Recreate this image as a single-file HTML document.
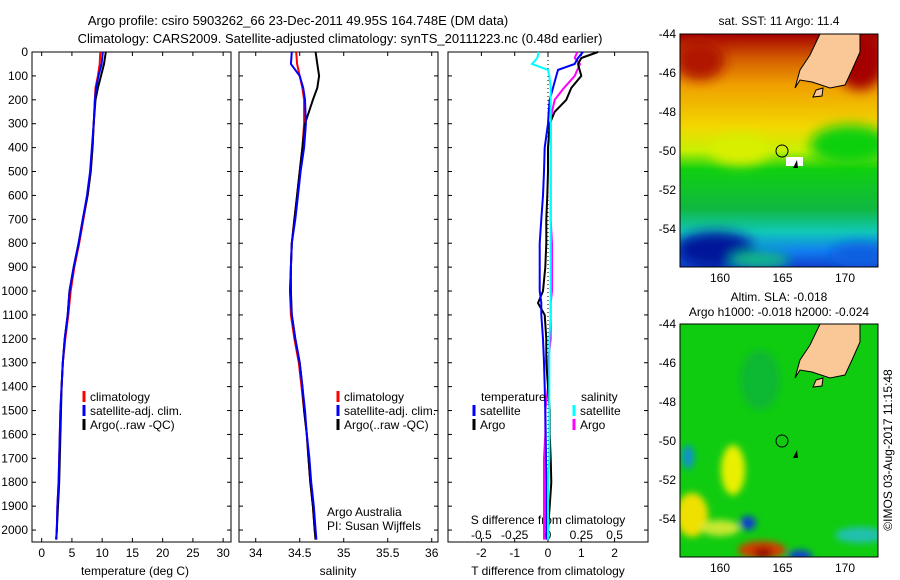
<!DOCTYPE html>
<html><head><meta charset="utf-8"><style>
body{margin:0;background:#fff}
svg{display:block;font-family:"Liberation Sans",sans-serif;font-size:12px}
</style></head><body>
<svg id="fig" width="900" height="580" viewBox="0 0 900 580">
<defs>
<linearGradient id="sstg" x1="0" y1="0" x2="0" y2="1">
<stop offset="0" stop-color="#a40000"/><stop offset="0.1" stop-color="#d25a00"/><stop offset="0.22" stop-color="#f0a000"/><stop offset="0.4" stop-color="#f2d800"/><stop offset="0.5" stop-color="#c8f000"/><stop offset="0.58" stop-color="#10d010"/><stop offset="0.75" stop-color="#10b840"/><stop offset="0.85" stop-color="#10c8b8"/><stop offset="0.93" stop-color="#1080f0"/><stop offset="1" stop-color="#1040d0"/>
</linearGradient>
<filter id="bl"><feGaussianBlur stdDeviation="6"/></filter>
<filter id="bl2"><feGaussianBlur stdDeviation="3.5"/></filter>
<clipPath id="c1"><rect x="680" y="34" width="198" height="233"/></clipPath>
<clipPath id="c2"><rect x="680" y="324" width="198" height="233"/></clipPath>
</defs>
<text x="298" y="25" text-anchor="middle" font-size="13">Argo profile: csiro 5903262_66 23-Dec-2011 49.95S 164.748E (DM data)</text>
<text x="340" y="43" text-anchor="middle" font-size="13">Climatology: CARS2009. Satellite-adjusted climatology: synTS_20111223.nc (0.48d earlier)</text>
<g id="plots"></g>
<g clip-path="url(#c1)">
<rect x="680" y="34" width="198" height="233" fill="url(#sstg)"/>
<g filter="url(#bl)">
<ellipse cx="860" cy="60" rx="25" ry="30" fill="#a40000"/>
<ellipse cx="700" cy="60" rx="25" ry="20" fill="#b01800"/>
<ellipse cx="715" cy="250" rx="40" ry="18" fill="#00189a"/>
<ellipse cx="860" cy="255" rx="30" ry="12" fill="#1060e0"/>
<ellipse cx="760" cy="260" rx="30" ry="8" fill="#10c080"/>
<ellipse cx="850" cy="145" rx="40" ry="20" fill="#10d010"/>
<ellipse cx="740" cy="150" rx="30" ry="15" fill="#d8f000"/>
</g>
<path d="M820,34 L860,34 L860,52 L852,70 L845,85 L830,88 L812,82 L800,80 L795,88 L800,70 L810,55Z" fill="#f9c896" stroke="#000" stroke-width="1"/>
<path d="M816,90 L823,88 L822,96 L813,97Z" fill="#f9c896" stroke="#000"/>
<rect x="786" y="157" width="17" height="9" fill="#fff"/>
<path d="M793,168 L797,160 L798,168Z" fill="#000"/>
<circle cx="782" cy="151" r="6" fill="none" stroke="#000"/>
</g>
<g clip-path="url(#c2)">
<rect x="680" y="324" width="198" height="233" fill="#10cc10"/>
<g filter="url(#bl2)">
<ellipse cx="733" cy="470" rx="12" ry="25" fill="#e8f000"/>
<ellipse cx="692" cy="515" rx="16" ry="22" fill="#f0e000"/>
<ellipse cx="720" cy="528" rx="20" ry="8" fill="#c8e830"/>
<ellipse cx="688" cy="457" rx="6" ry="12" fill="#1090d0"/>
<ellipse cx="748" cy="523" rx="8" ry="7" fill="#1040d0"/>
<ellipse cx="762" cy="550" rx="24" ry="9" fill="#d04000"/>
<ellipse cx="763" cy="553" rx="10" ry="6" fill="#a01000"/>
<ellipse cx="800" cy="556" rx="12" ry="6" fill="#1040d0"/>
<ellipse cx="860" cy="535" rx="25" ry="8" fill="#20c0b0"/>
<ellipse cx="760" cy="380" rx="20" ry="30" fill="#10b830"/>
</g>
<path d="M820,324 L860,324 L860,342 L852,360 L845,375 L830,378 L812,372 L800,370 L795,378 L800,360 L810,345Z" fill="#f9c896" stroke="#000"/>
<path d="M816,380 L823,378 L822,386 L813,387Z" fill="#f9c896" stroke="#000"/>
<path d="M793,458 L797,450 L798,458Z" fill="#000"/>
<circle cx="782" cy="441" r="6" fill="none" stroke="#000"/>
</g>
<rect x="680" y="34" width="198" height="233" fill="none" stroke="#000"/>
<rect x="680" y="324" width="198" height="233" fill="none" stroke="#000"/>
<text x="779" y="25" text-anchor="middle">sat. SST: 11 Argo: 11.4</text>
<text x="779" y="301" text-anchor="middle">Altim. SLA: -0.018</text>
<text x="779" y="316" text-anchor="middle">Argo h1000: -0.018 h2000: -0.024</text>
<text transform="translate(892,450) rotate(-90)" text-anchor="middle">©IMOS 03-Aug-2017 11:15:48</text>
</svg>
<script>
const depths=[0,50,100,150,200,300,400,500,600,700,800,900,1000,1100,1200,1300,1400,1500,1600,1700,1800,1900,2000,2040];
const tempClim=[9.7,9.6,9.3,8.9,8.8,8.6,8.4,8.1,7.6,6.9,6.2,5.4,4.8,4.4,3.9,3.5,3.3,3.1,3.0,2.9,2.8,2.6,2.5,2.4];
const tempSat=[10.1,9.9,9.4,9.0,8.8,8.6,8.3,8.0,7.5,6.8,6.1,5.3,4.6,4.3,3.8,3.5,3.3,3.1,3.0,2.9,2.8,2.6,2.5,2.4];
const tempArgo=[10.6,10.3,9.8,9.3,8.9,8.6,8.4,8.1,7.6,6.8,6.1,5.3,4.6,4.3,3.8,3.5,3.3,3.2,3.1,3.0,2.9,2.7,2.5,2.4];
const salClim=[34.46,34.47,34.50,34.53,34.55,34.55,34.53,34.50,34.47,34.44,34.41,34.40,34.39,34.40,34.44,34.49,34.52,34.55,34.58,34.60,34.62,34.65,34.67,34.68];
const salSat=[34.41,34.40,34.50,34.54,34.56,34.57,34.55,34.51,34.48,34.45,34.41,34.40,34.39,34.41,34.45,34.50,34.53,34.56,34.58,34.61,34.63,34.66,34.68,34.69];
const salArgo=[34.68,34.70,34.72,34.70,34.65,34.56,34.53,34.50,34.47,34.44,34.41,34.40,34.40,34.41,34.45,34.50,34.53,34.55,34.58,34.60,34.62,34.65,34.67,34.68];
const diffDepths=[0,25,50,75,100,150,200,250,300,400,500,600,700,800,900,1000,1050,1100,1200,1300,1400,1500,1600,1700,1800,1900,2000,2040];
const tDiffSat=[1.05,0.9,0.8,0.3,0.25,0.15,0.05,0.02,0,-0.1,-0.12,-0.15,-0.2,-0.25,-0.25,-0.25,-0.2,-0.2,-0.15,-0.12,-0.1,-0.08,-0.07,-0.06,-0.05,-0.05,-0.05,-0.05];
const tDiffArgo=[1.5,1.0,0.9,0.95,1.0,0.7,0.55,0.2,0.05,0,0,-0.02,-0.05,-0.05,-0.08,-0.15,-0.3,-0.1,-0.05,-0.05,0,0.05,0.05,0.08,0.1,0.05,0,0];
const sDiffSat=[-0.07,-0.08,-0.12,0,0.01,0.02,0.02,0.02,0.02,0.02,0.02,0.02,0.02,0.02,0.02,0.02,0.02,0.02,0.01,0.01,0.01,0.01,0.01,0.01,0.0,0.0,0.0,0.0];
const sDiffArgo=[0.22,0.2,0.24,0.22,0.2,0.12,0.05,0.03,0.02,0.02,0.02,0.02,0.02,0.03,0.03,0.03,0.02,0.02,0.02,0.0,0.0,-0.02,-0.02,-0.03,-0.03,-0.03,-0.03,-0.03];
const depthTicks=[0,100,200,300,400,500,600,700,800,900,1000,1100,1200,1300,1400,1500,1600,1700,1800,1900,2000];
const tempTicks=[0,5,10,15,20,25,30];
const salTicks=[34,34.5,35,35.5,36];
const tDiffTicks=[-2,-1,0,1,2];
const sDiffTicks=['-0.5','-0.25','0','0.25','0.5'];
const NS='http://www.w3.org/2000/svg';
const g=document.getElementById('plots');
const Y0=52,Y1=542;
const yD=d=>Y0+(d/2050)*(Y1-Y0);
const xT=v=>32+(v+1.6)*(199/32.9);
const xS=v=>239+(v-33.81)*88;
const xTd=v=>548+v*33.3;
const xSd=v=>548+v*133.3;
function el(t,a,p){const e=document.createElementNS(NS,t);for(const k in a)e.setAttribute(k,a[k]);(p||g).appendChild(e);return e;}
function txt(x,y,s,anchor){const e=el('text',{x:x,y:y,'text-anchor':anchor||'middle'});e.textContent=s;return e;}
function line(xs,ds,xf,col,w){const pts=xs.map((v,i)=>xf(v).toFixed(1)+','+yD(ds[i]).toFixed(1)).join(' ');return el('polyline',{points:pts,fill:'none',stroke:col,'stroke-width':w||2});}
const panels=[[32,231],[239,438],[448,648]];
panels.forEach((p,i)=>{
 const r=el('rect',{x:p[0],y:Y0,width:p[1]-p[0],height:Y1-Y0,fill:'none',stroke:'#000'});
 
 
});
depthTicks.forEach(d=>{
 const t=txt(28,yD(d)+4,String(d),'end');
 
 
 panels.forEach(p=>{el('line',{x1:p[0],x2:p[0]+4,y1:yD(d),y2:yD(d),stroke:'#000'});el('line',{x1:p[1],x2:p[1]-4,y1:yD(d),y2:yD(d),stroke:'#000'});});
});
tempTicks.forEach(v=>{
 const t=txt(xT(v),557,String(v));
 
 
 el('line',{x1:xT(v),x2:xT(v),y1:Y1,y2:Y1-4,stroke:'#000'});el('line',{x1:xT(v),x2:xT(v),y1:Y0,y2:Y0+4,stroke:'#000'});
});
salTicks.forEach(v=>{
 const t=txt(xS(v),557,String(v));
 
 
 el('line',{x1:xS(v),x2:xS(v),y1:Y1,y2:Y1-4,stroke:'#000'});el('line',{x1:xS(v),x2:xS(v),y1:Y0,y2:Y0+4,stroke:'#000'});
});
tDiffTicks.forEach(v=>{
 const t=txt(xTd(v),557,String(v));
 
 
 el('line',{x1:xTd(v),x2:xTd(v),y1:Y1,y2:Y1-4,stroke:'#000'});el('line',{x1:xTd(v),x2:xTd(v),y1:Y0,y2:Y0+4,stroke:'#000'});
});
sDiffTicks.forEach(s=>{
 const t=txt(xSd(parseFloat(s)),539,s);
 
 
});
[['temperature (deg C)',135,'temperature-axis-title'],['salinity',338,'salinity-axis-title'],['T difference from climatology',548,'t-diff-axis-title']].forEach(a=>{
 const t=txt(a[1],575,a[0]);
 
 
});
let t=txt(548,524,'S difference from climatology');


el('line',{x1:548,x2:548,y1:Y0,y2:Y1,stroke:'#000','stroke-dasharray':'1,3'});
let s;
s=line(tempClim,depths,xT,'#f00');
s=line(tempArgo,depths,xT,'#000');
s=line(tempSat,depths,xT,'#00f');
s=line(salClim,depths,xS,'#f00');
s=line(salArgo,depths,xS,'#000');
s=line(salSat,depths,xS,'#00f');
s=line(sDiffArgo,diffDepths,xSd,'#f0f');
s=line(tDiffArgo,diffDepths,xTd,'#000');
s=line(tDiffSat,diffDepths,xTd,'#00f');
s=line(sDiffSat,diffDepths,xSd,'#0ff');
function leg(x,y,col,label){el('line',{x1:x,x2:x,y1:y-10,y2:y+1,stroke:col,'stroke-width':3});const t=txt(x+6,y,label,'start');return t;}
[[84,'#f00','climatology'],[84,'#00f','satellite-adj. clim.'],[84,'#000','Argo(..raw -QC)'],[338,'#f00','climatology'],[338,'#00f','satellite-adj. clim.'],[338,'#000','Argo(..raw -QC)']].forEach((a,i)=>{
 const t=leg(a[0],401+(i%3)*14,a[1],a[2]);
 
 
});
t=txt(481,401,'temperature','start');
t=txt(581,401,'salinity','start');
[[474,415,'#00f','satellite'],[474,429,'#000','Argo'],[574,415,'#0ff','satellite'],[574,429,'#f0f','Argo']].forEach(a=>{
 const t=leg(a[0],a[1],a[2],a[3]);
 
 
});
t=txt(327,516,'Argo Australia','start');
t=txt(327,530,'PI: Susan Wijffels','start');
const lats=[-44,-46,-48,-50,-52,-54];
const lons=[160,165,170];
[[34,-44,19.5,282],[324,-44,19.5,572]].forEach(m=>{
 lats.forEach(la=>{const y=m[0]+(m[1]-la)*m[2];const t=txt(676,y+4,String(la),'end');
  el('line',{x1:680,x2:684,y1:y,y2:y,stroke:'#000'});el('line',{x1:878,x2:874,y1:y,y2:y,stroke:'#000'});});
 lons.forEach(lo=>{const x=680+(lo-156.8)*12.5;const t=txt(x,m[3],String(lo));
  el('line',{x1:x,x2:x,y1:m[0],y2:m[0]+4,stroke:'#000'});el('line',{x1:x,x2:x,y1:m[0]+233,y2:m[0]+229,stroke:'#000'});});
});
</script>
</body></html>
